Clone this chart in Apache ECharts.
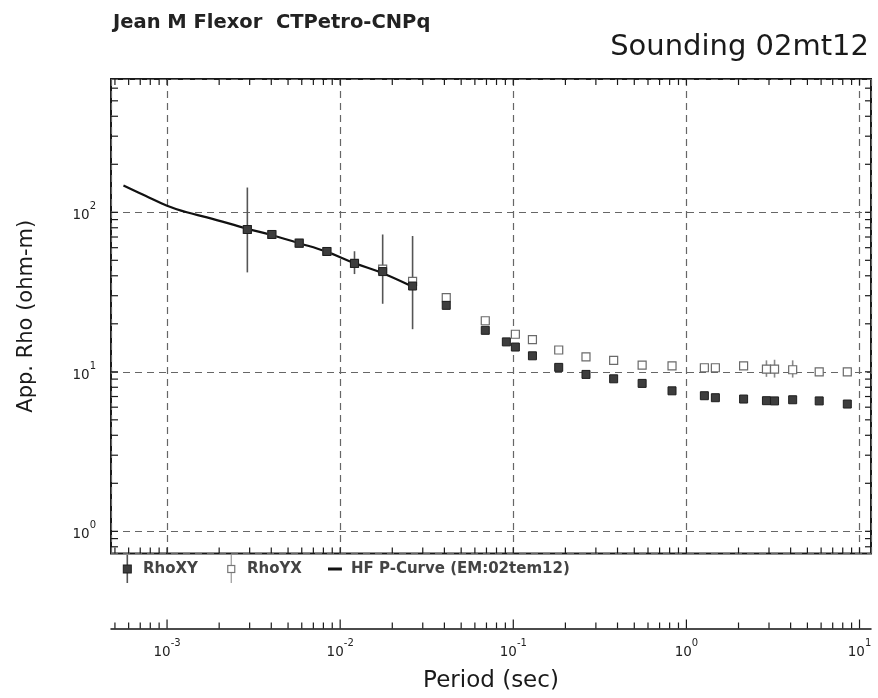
<!DOCTYPE html>
<html>
<head>
<meta charset="utf-8">
<script src="https://cdn.jsdelivr.net/npm/echarts@6/dist/echarts.min.js"></script>
<style>
  html, body { margin: 0; padding: 0; background: #fff; }
  #chart { width: 878px; height: 698px; }
</style>
</head>
<body>
<div id="chart"></div>
<script>
// sounding periods (sec)
const periods = [0.00291, 0.00403, 0.0058, 0.00838, 0.0121, 0.0176, 0.0262, 0.041, 0.0689, 0.0912,
  0.1028, 0.129, 0.183, 0.263, 0.38, 0.555, 0.826, 1.27, 1.47, 2.14, 2.9, 3.23, 4.11, 5.85, 8.5];
// apparent resistivity (ohm-m)
const rhoXY = [78, 72.6, 64, 56.8, 47.8, 42.5, 34.5, 26.1, 18.2, 15.4,
  14.3, 12.6, 10.66, 9.63, 9.04, 8.46, 7.6, 7.08, 6.88, 6.75, 6.59, 6.57, 6.68, 6.57, 6.28];
const rhoYX = [78, 72.6, 64, 56.8, 47.8, 44, 36.9, 29.2, 20.9, null,
  17.2, 15.9, 13.7, 12.4, 11.8, 11.0, 10.9, 10.6, 10.6, 10.9, 10.4, 10.4, 10.3, 10.0, 10.0];

// error bars
const errPeriodsXY = [0.00291, 0.0121, 0.0176, 0.0262];
const errLowXY = [42, 41, 26.7, 18.5];
const errHighXY = [143, 57, 72.6, 71];
const errPeriodsYX = [2.9, 3.23, 4.11];
const errLowYX = [9.3, 9.2, 9.2];
const errHighYX = [11.8, 11.9, 11.8];

// HF P-curve
const curvePeriods = [0.00056, 0.00075, 0.001, 0.0013, 0.0017, 0.0029, 0.004, 0.0058, 0.0084, 0.0121, 0.0176, 0.025];
const curveRho = [147, 127, 110, 100, 93, 79, 72, 64, 56.5, 48, 41.5, 35];

const X_MIN = 4.745e-4, X_MAX = 11.65;
const Y_MIN = 0.726, Y_MAX = 685;
const LOWER_AXIS_OFFSET = 75;
const FONT = "'DejaVu Sans', sans-serif";

function logTicks(lo, hi) {
  const out = [];
  for (let e = Math.floor(Math.log10(lo)); e <= Math.ceil(Math.log10(hi)); e++) {
    for (let m = 1; m <= 9; m++) {
      const v = m * Math.pow(10, e);
      if (v >= lo && v <= hi) out.push([v, m === 1 ? 1 : 0]);
    }
  }
  return out;
}

const tickData = [];
logTicks(X_MIN, X_MAX).forEach(t => tickData.push([t[0], 1, 0, t[1]]));
logTicks(Y_MIN, Y_MAX).forEach(t => tickData.push([0.01, t[0], 1, t[1]]));

function pow10Label(value) {
  const e = Math.round(Math.log10(value));
  return '{b|10}{s|' + e + '}';
}
const powRich = {
  b: { fontFamily: FONT, fontSize: 13.5, color: '#222', lineHeight: 21, verticalAlign: 'bottom' },
  s: { fontFamily: FONT, fontSize: 10, color: '#222', lineHeight: 9, verticalAlign: 'top' }
};

function svgIcon(body) {
  const svg = "<svg xmlns='http://www.w3.org/2000/svg' width='18' height='28'>" + body + "</svg>";
  return 'image://data:image/svg+xml;utf8,' + encodeURIComponent(svg);
}
const iconXY = svgIcon("<rect x='6.5' y='0' width='1.6' height='28' fill='#555'/>" +
  "<rect x='3.3' y='10' width='8' height='8' fill='#3d3d3d' stroke='#1e1e1e' stroke-width='1'/>");
const iconYX = svgIcon("<rect x='6.7' y='0' width='1.2' height='28' fill='#999'/>" +
  "<rect x='3.8' y='10.5' width='7' height='7' fill='#fff' stroke='#777' stroke-width='1.2'/>");
const iconCurve = svgIcon("<rect x='0' y='12.5' width='14' height='3' fill='#111'/>");

function renderTicks(params, api) {
  const cs = params.coordSys;
  const major = api.value(3) === 1;
  const segs = [];
  if (api.value(2) === 0) {
    const x = api.coord([api.value(0), 1])[0];
    const bot = cs.y + cs.height;
    const low = bot + LOWER_AXIS_OFFSET;
    segs.push([x, cs.y, x, cs.y + 6]);
    segs.push([x, bot, x, bot - 6]);
    segs.push([x, low, x, low - (major ? 9 : 6)]);
  } else {
    const y = api.coord([0.01, api.value(1)])[1];
    segs.push([cs.x, y, cs.x + 7, y]);
    segs.push([cs.x + cs.width, y, cs.x + cs.width - 6, y]);
  }
  return {
    type: 'group',
    children: segs.map(s => ({
      type: 'line',
      shape: { x1: s[0], y1: s[1], x2: s[2], y2: s[3] },
      style: { stroke: '#1a1a1a', lineWidth: 1.2 }
    }))
  };
}

function renderErr(params, api) {
  const p0 = api.coord([api.value(0), api.value(1)]);
  const p1 = api.coord([api.value(0), api.value(2)]);
  return {
    type: 'line',
    shape: { x1: p0[0], y1: p0[1], x2: p1[0], y2: p1[1] },
    style: { stroke: api.visual('color'), lineWidth: 1.6 }
  };
}

const gridDash = { color: '#666', width: 1.2, type: [7, 5] };

const chart = echarts.init(document.getElementById('chart'), null, { renderer: 'canvas' });
chart.setOption({
  backgroundColor: '#fff',
  animation: false,
  title: [
    { text: 'Jean M Flexor  CTPetro-CNPq', left: 113, top: 13.5, padding: 0,
      textStyle: { fontFamily: FONT, fontSize: 19.5, fontWeight: 'bold', color: '#222', lineHeight: 19.5 } },
    { text: 'Sounding 02mt12', right: 9, top: 32.5, padding: 0,
      textStyle: { fontFamily: FONT, fontSize: 29, fontWeight: 'normal', color: '#1a1a1a', lineHeight: 29 } }
  ],
  legend: {
    left: 115, top: 550, padding: 5,
    itemWidth: 18, itemHeight: 28, itemGap: 26,
    selectedMode: false,
    textStyle: { fontFamily: FONT, fontSize: 15, fontWeight: 'bold', color: '#444' },
    data: [
      { name: 'RhoXY', icon: iconXY },
      { name: 'RhoYX', icon: iconYX },
      { name: 'HF P-Curve (EM:02tem12)', icon: iconCurve }
    ]
  },
  grid: {
    left: 111, top: 79, right: 7, bottom: 143,
    show: true, borderColor: '#1a1a1a', borderWidth: 2, backgroundColor: 'transparent'
  },
  xAxis: [
    {
      type: 'log', gridIndex: 0, position: 'bottom', min: X_MIN, max: X_MAX,
      axisLine: { show: false }, axisTick: { show: false }, axisLabel: { show: false },
      splitLine: { show: true, lineStyle: gridDash }
    },
    {
      type: 'log', gridIndex: 0, position: 'bottom', offset: LOWER_AXIS_OFFSET, min: X_MIN, max: X_MAX,
      axisLine: { show: true, lineStyle: { color: '#111', width: 1.5 } },
      axisTick: { show: false },
      splitLine: { show: false },
      axisLabel: { show: true, margin: 10, showMinLabel: false, showMaxLabel: false,
        formatter: pow10Label, rich: powRich },
      name: 'Period (sec)', nameLocation: 'middle', nameGap: 41.5,
      nameTextStyle: { fontFamily: FONT, fontSize: 23, color: '#1a1a1a' }
    }
  ],
  yAxis: [
    {
      type: 'log', gridIndex: 0, min: Y_MIN, max: Y_MAX,
      axisLine: { show: false }, axisTick: { show: false },
      axisLabel: { show: true, margin: 15, showMinLabel: false, showMaxLabel: false,
        formatter: pow10Label, rich: powRich },
      splitLine: { show: true, lineStyle: gridDash },
      name: 'App. Rho (ohm-m)', nameLocation: 'middle', nameGap: 74,
      nameTextStyle: { fontFamily: FONT, fontSize: 21, color: '#1a1a1a' }
    }
  ],
  series: [
    {
      name: 'ticks', type: 'custom', renderItem: renderTicks, data: tickData,
      encode: { x: 0, y: 1 }, clip: false, silent: true, z: 5
    },
    {
      name: 'errXY', type: 'custom', renderItem: renderErr,
      data: errPeriodsXY.map((p, i) => [p, errLowXY[i], errHighXY[i]]),
      encode: { x: 0, y: [1, 2] }, itemStyle: { color: '#555' }, silent: true, z: 3
    },
    {
      name: 'errYX', type: 'custom', renderItem: renderErr,
      data: errPeriodsYX.map((p, i) => [p, errLowYX[i], errHighYX[i]]),
      encode: { x: 0, y: [1, 2] }, itemStyle: { color: '#888' }, silent: true, z: 3
    },
    {
      name: 'HF P-Curve (EM:02tem12)', type: 'line', smooth: 0.4, showSymbol: false,
      data: curvePeriods.map((p, i) => [p, curveRho[i]]),
      lineStyle: { color: '#111', width: 2.2 }, itemStyle: { color: '#111' }, z: 4
    },
    {
      name: 'RhoYX', type: 'scatter', symbol: 'rect', symbolSize: 8,
      data: periods.map((p, i) => [p, rhoYX[i]]).filter(d => d[1] !== null),
      itemStyle: { color: '#fff', borderColor: '#6a6a6a', borderWidth: 1.2, opacity: 1 }, z: 6
    },
    {
      name: 'RhoXY', type: 'scatter', symbol: 'rect', symbolSize: 8,
      data: periods.map((p, i) => [p, rhoXY[i]]),
      itemStyle: { color: '#3d3d3d', borderColor: '#1e1e1e', borderWidth: 1, opacity: 1 }, z: 7
    }
  ]
});
</script>
</body>
</html>
